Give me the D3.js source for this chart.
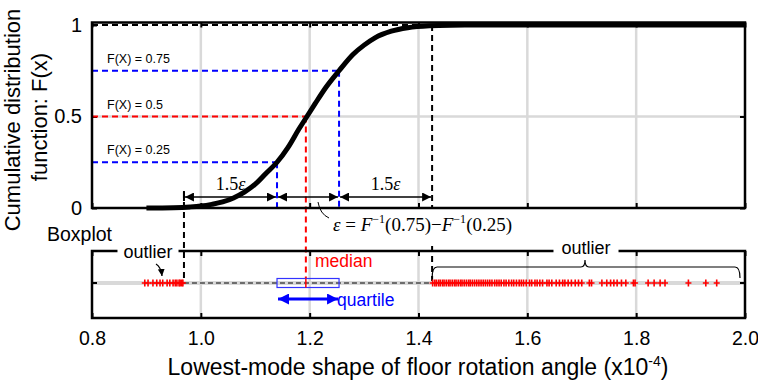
<!doctype html>
<html>
  <head>
    <meta charset="utf-8">
    <title>CDF and boxplot</title>
    <script src="https://d3js.org/d3.v7.min.js"></script>
    <style>
      body { margin: 0; background: #fff; }
      text { font-family: 'Liberation Sans', Arial, sans-serif; }
      .serif { font-family: 'Liberation Serif', 'Times New Roman', serif; }
    </style>
  </head>
  <body>
    <svg id="chart" width="758" height="383"></svg>

    <script>
      // values
      var xTicks = [0.8, 1.0, 1.2, 1.4, 1.6, 1.8, 2.0]
      var yTicks = [0, 0.5, 1]
      var cdfX = [0.9, 0.95, 0.98, 1.0, 1.02, 1.04, 1.06, 1.08, 1.1, 1.12, 1.14, 1.16, 1.18, 1.195, 1.21, 1.23, 1.254, 1.28, 1.3, 1.32, 1.35, 1.38, 1.42, 1.46, 1.53, 2.0]
      var cdfF = [0, 0.002, 0.006, 0.011, 0.02, 0.033, 0.055, 0.087, 0.13, 0.19, 0.25, 0.33, 0.43, 0.5, 0.57, 0.66, 0.75, 0.84, 0.89, 0.93, 0.966, 0.985, 0.996, 0.999, 1, 1]
      var levels = [0.25, 0.5, 0.75]
      var quantiles = [1.14, 1.193, 1.254]
      var levelLabels = ['F(X) = 0.25', 'F(X) = 0.5', 'F(X) = 0.75']
      var fences = [0.969, 1.425]
      var outliersLow = [0.897, 0.903, 0.912, 0.919, 0.925, 0.93, 0.938, 0.943, 0.949, 0.953, 0.956, 0.96, 0.962, 0.965, 0.967]
      var outliersHigh = [1.426, 1.43, 1.433, 1.437, 1.44, 1.444, 1.447, 1.451, 1.455, 1.458, 1.462, 1.466, 1.469, 1.473, 1.477, 1.48, 1.484, 1.488, 1.492, 1.495, 1.499, 1.503, 1.507, 1.511, 1.515, 1.519, 1.523, 1.527, 1.531, 1.535, 1.54, 1.544, 1.548, 1.552, 1.557, 1.561, 1.566, 1.571, 1.575, 1.58, 1.585, 1.589, 1.593, 1.598, 1.604, 1.608, 1.614, 1.618, 1.623, 1.628, 1.636, 1.64, 1.645, 1.653, 1.659, 1.665, 1.669, 1.675, 1.681, 1.688, 1.694, 1.7, 1.714, 1.718, 1.737, 1.746, 1.753, 1.759, 1.765, 1.773, 1.781, 1.795, 1.798, 1.822, 1.833, 1.844, 1.853, 1.896, 1.928, 1.948]

      var RED = '#ff0000'
      var BLUE = '#0000ff'
      var GRID = '#d9d9d9'

      var svg = d3.select('#chart')

      var x = d3.scaleLinear().domain([0.8, 2.0]).range([92, 745])
      var y = d3.scaleLinear().domain([0, 1]).range([208, 25])
      var topY0 = 22.5
      var box = { top: 251, bottom: 318, mid: 283 }

      var defs = svg.append('defs')
      function marker(id, color, size) {
        defs
          .append('marker')
          .attr('id', id)
          .attr('viewBox', '0 -5 10 10')
          .attr('refX', 10)
          .attr('refY', 0)
          .attr('markerWidth', size)
          .attr('markerHeight', size)
          .attr('markerUnits', 'userSpaceOnUse')
          .attr('orient', 'auto-start-reverse')
          .append('path')
          .attr('d', 'M0,-5L10,0L0,5Z')
          .attr('fill', color)
      }
      marker('arrowK', '#000', 9)
      marker('arrowB', BLUE, 11)
      marker('arrowS', '#000', 7)

      // ---------- top panel: CDF ----------
      var gTop = svg.append('g')

      gTop
        .selectAll('line.gx')
        .data(xTicks.slice(1, -1))
        .join('line')
        .attr('x1', (d) => x(d))
        .attr('x2', (d) => x(d))
        .attr('y1', topY0)
        .attr('y2', y(0))
        .attr('stroke', GRID)
        .attr('stroke-width', 2.5)

      gTop
        .append('line')
        .attr('x1', x(0.8))
        .attr('x2', x(2.0))
        .attr('y1', y(0.5))
        .attr('y2', y(0.5))
        .attr('stroke', GRID)
        .attr('stroke-width', 2.5)

      // inward ticks
      gTop
        .append('g')
        .attr('transform', 'translate(0,' + y(0) + ')')
        .call(d3.axisBottom(x).tickValues(xTicks).tickSize(-5).tickFormat(''))
      gTop
        .append('g')
        .attr('transform', 'translate(0,' + topY0 + ')')
        .call(d3.axisTop(x).tickValues(xTicks).tickSize(-5).tickFormat(''))
      gTop
        .append('g')
        .attr('transform', 'translate(' + x(0.8) + ',0)')
        .call(d3.axisLeft(y).tickValues(yTicks).tickSize(-5).tickPadding(10).tickFormat(d3.format('')))
      gTop
        .append('g')
        .attr('transform', 'translate(' + x(2.0) + ',0)')
        .call(d3.axisRight(y).tickValues(yTicks).tickSize(-5).tickFormat(''))

      gTop.selectAll('.domain').remove()
      gTop.selectAll('.tick line').attr('stroke', '#000').attr('stroke-width', 2)
      gTop.selectAll('.tick text').attr('font-size', 20).attr('fill', '#000')

      // dashed guides
      var dashes = gTop.append('g').attr('stroke-dasharray', '6,4').attr('stroke-width', 2).attr('fill', 'none')
      levels.forEach(function (lv, i) {
        var c = lv === 0.5 ? RED : BLUE
        dashes
          .append('line')
          .attr('x1', x(0.8))
          .attr('x2', x(quantiles[i]))
          .attr('y1', y(lv))
          .attr('y2', y(lv))
          .attr('stroke', c)
        dashes
          .append('line')
          .attr('x1', x(quantiles[i]))
          .attr('x2', x(quantiles[i]))
          .attr('y1', y(lv))
          .attr('y2', lv === 0.5 ? box.mid - 4.5 : y(0))
          .attr('stroke', c)
      })
      dashes
        .append('line')
        .attr('x1', x(0.8))
        .attr('x2', x(fences[1]))
        .attr('y1', y(1))
        .attr('y2', y(1))
        .attr('stroke', '#000')
      dashes
        .append('line')
        .attr('x1', x(fences[1]))
        .attr('x2', x(fences[1]))
        .attr('y1', y(1))
        .attr('y2', y(0))
        .attr('stroke', '#000')
      dashes
        .append('line')
        .attr('x1', x(fences[1]))
        .attr('x2', x(fences[1]))
        .attr('y1', box.top - 5)
        .attr('y2', box.mid)
        .attr('stroke', '#000')
      dashes
        .append('line')
        .attr('x1', x(fences[0]))
        .attr('x2', x(fences[0]))
        .attr('y1', 192)
        .attr('y2', box.mid)
        .attr('stroke', '#000')

      // level labels
      gTop
        .selectAll('text.lv')
        .data(levels)
        .join('text')
        .attr('x', 107)
        .attr('y', (d) => y(d) - 8)
        .attr('font-size', 12.5)
        .text((d, i) => levelLabels[i])

      // CDF curve
      var cdf = cdfX.map((d, i) => [d, cdfF[i]])
      gTop
        .append('path')
        .datum(cdf)
        .attr('d', d3.line().x((d) => x(d[0])).y((d) => y(d[1])).curve(d3.curveMonotoneX))
        .attr('fill', 'none')
        .attr('stroke', '#000')
        .attr('stroke-width', 5)

      // frame
      gTop
        .append('rect')
        .attr('x', x(0.8))
        .attr('y', topY0)
        .attr('width', x(2.0) - x(0.8))
        .attr('height', y(0) - topY0)
        .attr('fill', 'none')
        .attr('stroke', '#000')
        .attr('stroke-width', 2.5)

      // 1.5 eps arrows
      var arrowY = 197
      var stops = [fences[0], quantiles[0], quantiles[2], fences[1]]
      for (var i = 0; i < 3; i++) {
        gTop
          .append('line')
          .attr('x1', x(stops[i]) + 1)
          .attr('x2', x(stops[i + 1]) - 1)
          .attr('y1', arrowY)
          .attr('y2', arrowY)
          .attr('stroke', '#000')
          .attr('stroke-width', 1.5)
          .attr('marker-start', 'url(#arrowK)')
          .attr('marker-end', 'url(#arrowK)')
      }
      gTop
        .append('line')
        .attr('x1', x(fences[0]))
        .attr('x2', x(fences[0]))
        .attr('y1', arrowY - 6)
        .attr('y2', arrowY + 4)
        .attr('stroke', '#000')
        .attr('stroke-width', 2)
      ;[0, 2].forEach(function (i) {
        var t = gTop
          .append('text')
          .attr('class', 'serif')
          .attr('x', (x(stops[i]) + x(stops[i + 1])) / 2)
          .attr('y', 190)
          .attr('text-anchor', 'middle')
          .attr('font-size', 18)
        t.append('tspan').text('1.5')
        t.append('tspan').attr('font-style', 'italic').text('ε')
      })

      // epsilon formula with leader
      gTop
        .append('path')
        .attr('d', 'M318,202 Q320,214 329,218')
        .attr('fill', 'none')
        .attr('stroke', '#000')
        .attr('stroke-width', 1)
      var f = gTop
        .append('text')
        .attr('class', 'serif')
        .attr('x', 333)
        .attr('y', 231)
        .attr('font-size', 19)
      f.append('tspan').attr('font-style', 'italic').text('ε')
      f.append('tspan').text(' = ')
      f.append('tspan').attr('font-style', 'italic').text('F')
      f.append('tspan').attr('dy', -8).attr('font-size', 12).text('−1')
      f.append('tspan').attr('dy', 8).text('(0.75)')
      f.append('tspan').text('−')
      f.append('tspan').attr('font-style', 'italic').text('F')
      f.append('tspan').attr('dy', -8).attr('font-size', 12).text('−1')
      f.append('tspan').attr('dy', 8).text('(0.25)')

      // ---------- bottom panel: boxplot ----------
      var gBot = svg.append('g')

      gBot
        .selectAll('line.gx')
        .data(xTicks.slice(1, -1))
        .join('line')
        .attr('x1', (d) => x(d))
        .attr('x2', (d) => x(d))
        .attr('y1', box.top)
        .attr('y2', box.bottom)
        .attr('stroke', GRID)
        .attr('stroke-width', 2.5)
      gBot
        .append('line')
        .attr('x1', x(0.8))
        .attr('x2', x(2.0))
        .attr('y1', box.mid)
        .attr('y2', box.mid)
        .attr('stroke', GRID)
        .attr('stroke-width', 4)

      var xAxis = gBot
        .append('g')
        .attr('transform', 'translate(0,' + box.bottom + ')')
        .call(d3.axisBottom(x).tickValues(xTicks).tickSize(-5).tickPadding(13).tickFormat(d3.format('.1f')))
      gBot
        .append('g')
        .attr('transform', 'translate(0,' + box.top + ')')
        .call(d3.axisTop(x).tickValues(xTicks).tickSize(-5).tickFormat(''))
      gBot.selectAll('.domain').remove()
      gBot.selectAll('.tick line').attr('stroke', '#000').attr('stroke-width', 2)
      xAxis.selectAll('.tick text').attr('font-size', 19.5).attr('fill', '#000')
      ;[x(0.8), x(2.0) - 5].forEach(function (px) {
        gBot
          .append('line')
          .attr('x1', px)
          .attr('x2', px + 5)
          .attr('y1', box.mid)
          .attr('y2', box.mid)
          .attr('stroke', '#000')
          .attr('stroke-width', 2)
      })

      // whisker
      gBot
        .append('line')
        .attr('x1', x(fences[0]))
        .attr('x2', x(fences[1]))
        .attr('y1', box.mid)
        .attr('y2', box.mid)
        .attr('stroke', '#000')
        .attr('stroke-width', 1)
        .attr('stroke-dasharray', '5,3')

      // box
      gBot
        .append('rect')
        .attr('x', x(quantiles[0]))
        .attr('y', box.mid - 4.5)
        .attr('width', x(quantiles[2]) - x(quantiles[0]))
        .attr('height', 9)
        .attr('fill', 'none')
        .attr('stroke', '#3333ff')
        .attr('stroke-width', 1.2)
      gBot
        .append('line')
        .attr('x1', x(quantiles[1]))
        .attr('x2', x(quantiles[1]))
        .attr('y1', box.mid - 4.5)
        .attr('y2', box.mid + 4.5)
        .attr('stroke', RED)
        .attr('stroke-width', 1.5)

      // outliers
      gBot
        .selectAll('path.out')
        .data(outliersLow.concat(outliersHigh))
        .join('path')
        .attr('transform', (d) => 'translate(' + x(d) + ',' + box.mid + ')')
        .attr('d', 'M-3,0H3M0,-3.5V3.5')
        .attr('stroke', RED)
        .attr('stroke-width', 1.6)

      // frame
      gBot
        .append('rect')
        .attr('x', x(0.8))
        .attr('y', box.top)
        .attr('width', x(2.0) - x(0.8))
        .attr('height', box.bottom - box.top)
        .attr('fill', 'none')
        .attr('stroke', '#000')
        .attr('stroke-width', 2.5)

      // quartile arrow
      gBot
        .append('line')
        .attr('x1', x(quantiles[0]) + 1)
        .attr('x2', x(quantiles[2]) - 1)
        .attr('y1', 299)
        .attr('y2', 299)
        .attr('stroke', BLUE)
        .attr('stroke-width', 3)
        .attr('marker-start', 'url(#arrowB)')
        .attr('marker-end', 'url(#arrowB)')

      // labels sitting on the frame (white background)
      function boxedLabel(cx, baseline, str, pad) {
        var bg = gBot.append('rect').attr('fill', '#fff')
        var t = gBot
          .append('text')
          .attr('x', cx)
          .attr('y', baseline)
          .attr('text-anchor', 'middle')
          .attr('font-size', 18)
          .text(str)
        var b = t.node().getBBox()
        bg.attr('x', b.x - pad)
          .attr('y', b.y)
          .attr('width', b.width + 2 * pad)
          .attr('height', b.height)
      }
      boxedLabel(148, 258, 'outlier', 6)
      boxedLabel(586, 254, 'outlier', 8)

      // brace over upper outliers
      var bx0 = x(fences[1]),
        bx1 = 740,
        bcx = 585,
        by = 267
      gBot
        .append('path')
        .attr(
          'd',
          'M' + bx0 + ',278 Q' + bx0 + ',' + by + ' ' + (bx0 + 5) + ',' + by +
            ' H' + (bcx - 4) + ' Q' + bcx + ',' + by + ' ' + bcx + ',' + (by - 7) +
            ' Q' + bcx + ',' + by + ' ' + (bcx + 4) + ',' + by +
            ' H' + (bx1 - 5) + ' Q' + bx1 + ',' + by + ' ' + bx1 + ',278'
        )
        .attr('fill', 'none')
        .attr('stroke', '#000')
        .attr('stroke-width', 1.2)

      // small arrow to lower outliers
      gBot
        .append('path')
        .attr('d', 'M156,264 Q161,267 162,276')
        .attr('fill', 'none')
        .attr('stroke', '#000')
        .attr('stroke-width', 1.3)
        .attr('marker-end', 'url(#arrowS)')

      gBot
        .append('text')
        .attr('x', 315)
        .attr('y', 267)
        .attr('font-size', 17.5)
        .attr('fill', RED)
        .text('median')
      gBot
        .append('text')
        .attr('x', 337)
        .attr('y', 306)
        .attr('font-size', 17.5)
        .attr('fill', BLUE)
        .text('quartile')

      svg
        .append('text')
        .attr('x', 47)
        .attr('y', 241)
        .attr('font-size', 19.5)
        .text('Boxplot')

      // axis titles
      var yl = svg.append('text').attr('transform', 'rotate(-90)').attr('text-anchor', 'middle').attr('font-size', 22)
      yl.append('tspan').attr('x', -120).attr('y', 20).text('Cumulative distribution')
      yl.append('tspan').attr('x', -117).attr('y', 47).text('function: F(x)')

      var xl = svg
        .append('text')
        .attr('x', 418)
        .attr('y', 375)
        .attr('text-anchor', 'middle')
        .attr('font-size', 23)
      xl.append('tspan').text('Lowest-mode shape of floor rotation angle (x10')
      xl.append('tspan').attr('dy', -9).attr('font-size', 14).text('-4')
      xl.append('tspan').attr('dy', 9).text(')')
    </script>
  </body>
</html>
